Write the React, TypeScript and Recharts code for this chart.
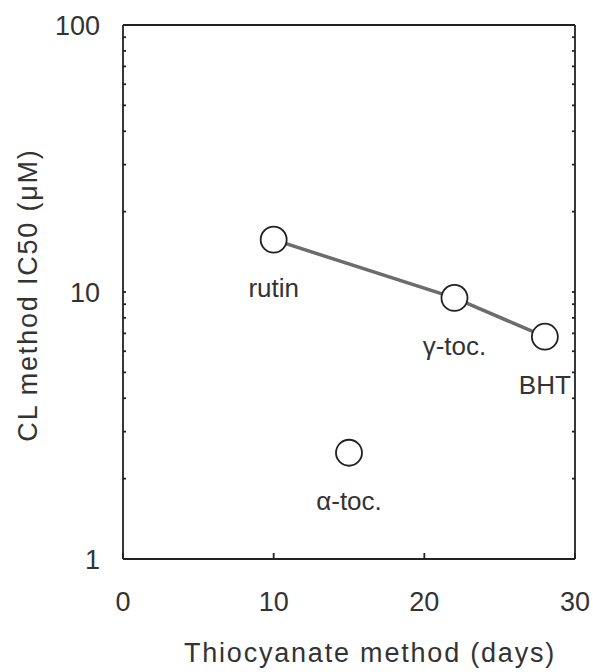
import { Label, Scatter, ScatterChart, XAxis, YAxis } from "recharts";

const linkedNames = ["rutin", "γ-toc.", "BHT"];
const linkedDays = [10, 22, 28];
const linkedIC50 = [15.7, 9.5, 6.8];

const alphaNames = ["α-toc."];
const alphaDays = [15];
const alphaIC50 = [2.5];

const xTicks = [0, 10, 20, 30];
const yTicks = [1, 2, 3, 4, 5, 6, 7, 8, 9, 10, 20, 30, 40, 50, 60, 70, 80, 90, 100];
const yLabelled = [1, 10, 100];

const linked = linkedNames.map((name, i) => ({ name, x: linkedDays[i], y: linkedIC50[i] }));
const alpha = alphaNames.map((name, i) => ({ name, x: alphaDays[i], y: alphaIC50[i] }));

const FONT = "'Liberation Sans', Arial, Helvetica, sans-serif";
const INK = "#222";
const TEXT = "#333";

function Marker(props: any) {
  const { cx, cy, payload } = props;
  return (
    <g>
      <circle cx={cx} cy={cy} r={13} fill="#fff" stroke={INK} strokeWidth={1.8} />
      <text
        x={cx}
        y={cy + 57}
        textAnchor="middle"
        fontFamily={FONT}
        fontSize={26}
        fill={TEXT}
      >
        {payload.name}
      </text>
    </g>
  );
}

const emptyTick = () => <g />;

export default function App() {
  return (
    <div style={{ position: "absolute", left: 0, top: 0, background: "#fff" }}>
      <ScatterChart
        width={593}
        height={672}
        margin={{ top: 24, right: 17, bottom: 13, left: 13 }}
      >
        <XAxis
          type="number"
          dataKey="x"
          domain={[0, 30]}
          ticks={xTicks}
          height={100}
          tickSize={-6}
          tickMargin={39}
          stroke={INK}
          strokeWidth={1.8}
          tick={{ fill: TEXT, fontSize: 27, fontFamily: FONT }}
        >
          <Label
            content={({ viewBox }: any) => (
              <text
                x={viewBox.x + viewBox.width / 2 + 21}
                y={viewBox.y + viewBox.height + 3}
                textAnchor="middle"
                fontFamily={FONT}
                fontSize={27}
                letterSpacing={1.8}
                fill={TEXT}
              >
                Thiocyanate method  (days)
              </text>
            )}
          />
        </XAxis>
        <XAxis
          xAxisId="top"
          orientation="top"
          type="number"
          domain={[0, 30]}
          height={1}
          tick={emptyTick}
          tickLine={false}
          stroke={INK}
          strokeWidth={1.8}
        />
        <YAxis
          type="number"
          dataKey="y"
          scale="log"
          domain={[1, 100]}
          allowDataOverflow
          ticks={yTicks}
          interval={0}
          width={110}
          tickSize={-3}
          tickMargin={26}
          stroke={INK}
          strokeWidth={1.8}
          tickFormatter={(v: number) => (yLabelled.includes(v) ? String(v) : "")}
          tick={{ fill: TEXT, fontSize: 27, fontFamily: FONT }}
        >
          <Label
            content={({ viewBox }: any) => {
              const cx = viewBox.x + 15;
              const cy = viewBox.y + viewBox.height / 2 + 3;
              return (
                <text
                  x={cx}
                  y={cy}
                  transform={`rotate(-90 ${cx} ${cy})`}
                  textAnchor="middle"
                  dominantBaseline="central"
                  fontFamily={FONT}
                  fontSize={27}
                  letterSpacing={1.8}
                  fill={TEXT}
                >
                  CL method IC50 (μM)
                </text>
              );
            }}
          />
        </YAxis>
        <YAxis
          yAxisId="right"
          orientation="right"
          type="number"
          scale="log"
          domain={[1, 100]}
          allowDataOverflow
          ticks={yTicks}
          interval={0}
          width={1}
          tickSize={-3}
          tick={emptyTick}
          stroke={INK}
          strokeWidth={1.8}
        />
        <Scatter
          data={linked}
          line={{ stroke: "#6c6c6c", strokeWidth: 3.5 }}
          shape={Marker}
          isAnimationActive={false}
        />
        <Scatter data={alpha} shape={Marker} isAnimationActive={false} />
      </ScatterChart>
    </div>
  );
}
